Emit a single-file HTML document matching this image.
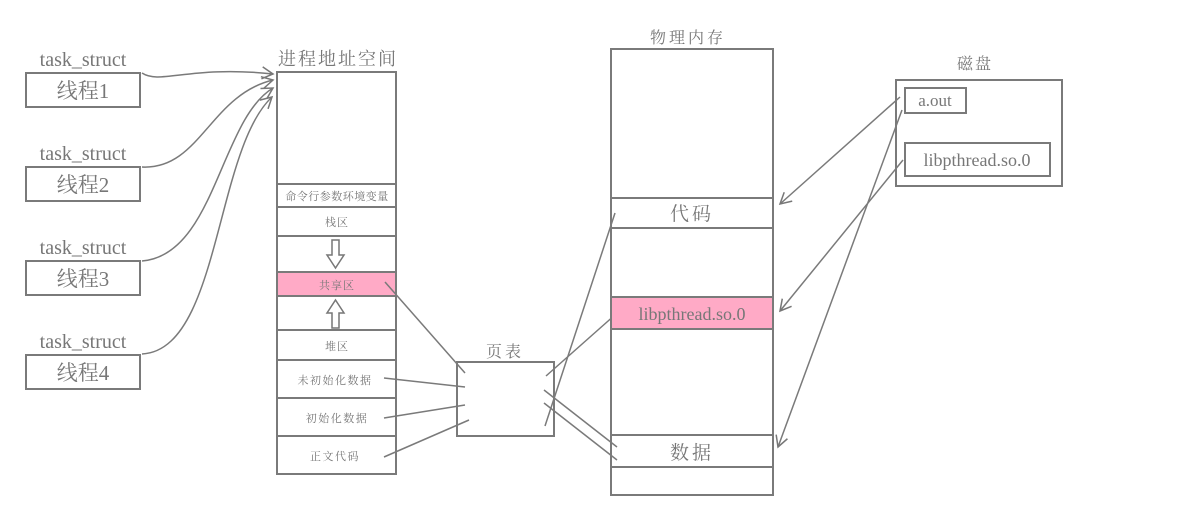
<!DOCTYPE html>
<html><head><meta charset="utf-8"><style>
html,body{margin:0;padding:0;background:#fff;}
svg{display:block}
text{font-family:"Liberation Serif","Noto Serif CJK SC","Noto Sans CJK SC",serif;fill:#777;}
</style></head><body>
<svg width="1195" height="520" viewBox="0 0 1195 520" xmlns="http://www.w3.org/2000/svg">
<defs>
<marker id="a" markerWidth="14" markerHeight="14" refX="12" refY="7" orient="auto" markerUnits="userSpaceOnUse">
<path d="M1,1 L12,7 L1,13" fill="none" stroke="#777" stroke-width="1.5"/>
</marker>
</defs>
<g fill="none" stroke="#7a7a7a" stroke-width="2">
<rect x="26" y="73" width="114" height="34"/>
<rect x="26" y="167" width="114" height="34"/>
<rect x="26" y="261" width="114" height="34"/>
<rect x="26" y="355" width="114" height="34"/>
</g>
<g fill="none" stroke="#7a7a7a" stroke-width="1.5">
<path d="M142,73 C160,85 190,65 273,74" marker-end="url(#a)"/>
<path d="M142,167 C200,170 210,95 273,80" marker-end="url(#a)"/>
<path d="M142,261 C215,255 220,120 273,88" marker-end="url(#a)"/>
<path d="M142,354 C220,350 215,150 272,97" marker-end="url(#a)"/>
</g>
<g font-size="20" text-anchor="middle">
<text x="83" y="66">task_struct</text>
<text x="83" y="160">task_struct</text>
<text x="83" y="254">task_struct</text>
<text x="83" y="348">task_struct</text>
</g>
<g font-size="21" text-anchor="middle">
<text x="83" y="98">线程1</text>
<text x="83" y="192">线程2</text>
<text x="83" y="286">线程3</text>
<text x="83" y="380">线程4</text>
</g>
<text x="338" y="65" font-size="18" text-anchor="middle" letter-spacing="2">进程地址空间</text>
<rect x="278" y="272" width="118" height="24" fill="#ffaac6"/>
<g fill="none" stroke="#7a7a7a" stroke-width="2">
<rect x="277" y="72" width="119" height="402"/>
<line x1="277" y1="184" x2="396" y2="184"/>
<line x1="277" y1="207" x2="396" y2="207"/>
<line x1="277" y1="236" x2="396" y2="236"/>
<line x1="277" y1="272" x2="396" y2="272"/>
<line x1="277" y1="296" x2="396" y2="296"/>
<line x1="277" y1="330" x2="396" y2="330"/>
<line x1="277" y1="360" x2="396" y2="360"/>
<line x1="277" y1="398" x2="396" y2="398"/>
<line x1="277" y1="436" x2="396" y2="436"/>
</g>
<g fill="none" stroke="#777" stroke-width="1.5">
<path d="M332,240 h7 v15 h5 l-8.5,13 l-8.5,-13 h5 z"/>
<path d="M332,328 h7 v-15 h5 l-8.5,-13 l-8.5,13 h5 z"/>
</g>
<g font-size="11" text-anchor="middle">
<text x="337" y="200" font-size="11" letter-spacing="0.5">命令行参数环境变量</text>
<text x="337" y="226" letter-spacing="1">栈区</text>
<text x="337" y="289" letter-spacing="1">共享区</text>
<text x="337" y="350" letter-spacing="1">堆区</text>
<text x="335" y="384" letter-spacing="1.5">未初始化数据</text>
<text x="337" y="422" letter-spacing="1.5">初始化数据</text>
<text x="335" y="460" letter-spacing="1.5">正文代码</text>
</g>
<text x="505" y="357" font-size="16" text-anchor="middle" letter-spacing="3">页表</text>
<g fill="none" stroke="#7a7a7a" stroke-width="2">
<rect x="457" y="362" width="97" height="74"/>
</g>
<g stroke="#7a7a7a" stroke-width="1.5" fill="none">
<line x1="385" y1="282" x2="465" y2="373"/>
<line x1="384" y1="378" x2="465" y2="387"/>
<line x1="384" y1="418" x2="465" y2="405"/>
<line x1="384" y1="457" x2="469" y2="420"/>
<line x1="546" y1="376" x2="616" y2="314"/>
<line x1="545" y1="426" x2="615" y2="213"/>
<line x1="544" y1="390" x2="617" y2="447"/>
<line x1="544" y1="403" x2="617" y2="460"/>
</g>
<text x="688" y="43" font-size="16" text-anchor="middle" letter-spacing="3">物理内存</text>
<rect x="612" y="297" width="161" height="32" fill="#ffaac6"/>
<g fill="none" stroke="#7a7a7a" stroke-width="2">
<rect x="611" y="49" width="162" height="446"/>
<line x1="611" y1="198" x2="773" y2="198"/>
<line x1="611" y1="228" x2="773" y2="228"/>
<line x1="611" y1="297" x2="773" y2="297"/>
<line x1="611" y1="329" x2="773" y2="329"/>
<line x1="611" y1="435" x2="773" y2="435"/>
<line x1="611" y1="467" x2="773" y2="467"/>
</g>
<g text-anchor="middle">
<text x="692" y="220" font-size="19" letter-spacing="3">代码</text>
<text x="692" y="320" font-size="18">libpthread.so.0</text>
<text x="692" y="459" font-size="19" letter-spacing="3">数据</text>
</g>
<text x="975" y="69" font-size="16" text-anchor="middle" letter-spacing="2">磁盘</text>
<g fill="none" stroke="#7a7a7a" stroke-width="2">
<rect x="896" y="80" width="166" height="106"/>
<rect x="905" y="88" width="61" height="25"/>
<rect x="905" y="143" width="145" height="33"/>
</g>
<text x="935" y="106" font-size="17" text-anchor="middle">a.out</text>
<text x="977" y="166" font-size="18" text-anchor="middle">libpthread.so.0</text>
<g stroke="#7a7a7a" stroke-width="1.5" fill="none">
<line x1="900" y1="97" x2="780" y2="204" marker-end="url(#a)"/>
<line x1="902" y1="110" x2="778" y2="447" marker-end="url(#a)"/>
<line x1="903" y1="160" x2="780" y2="311" marker-end="url(#a)"/>
</g>
</svg>
</body></html>
